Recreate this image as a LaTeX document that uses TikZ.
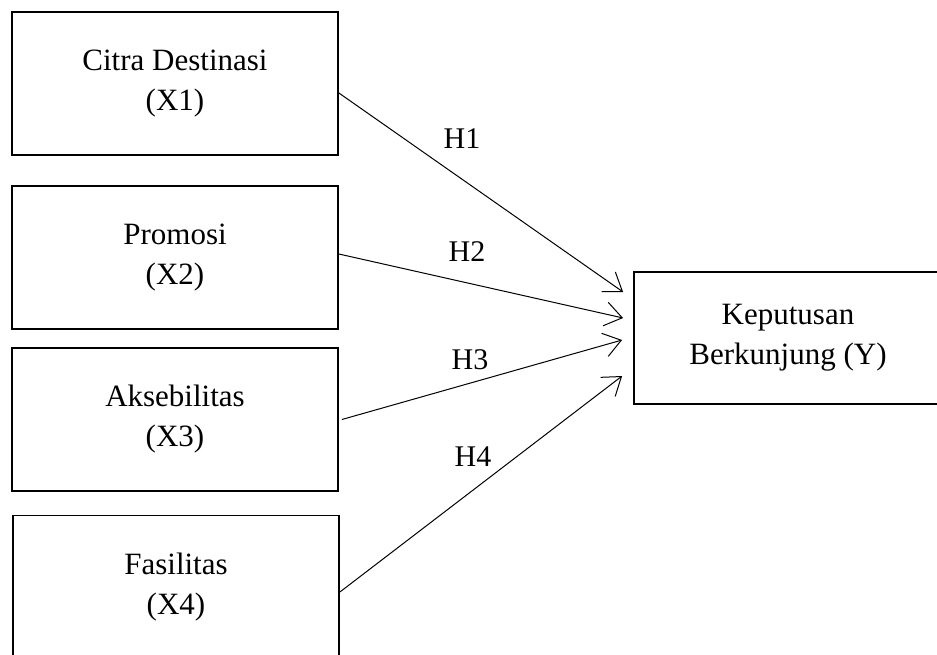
\documentclass[tikz,border=0pt]{standalone}
\usepackage{fontspec}
\setmainfont{Liberation Serif}
\usetikzlibrary{arrows.meta}
\begin{document}
\begin{tikzpicture}[x=1pt,y=-1pt,
  varbox/.style={draw, line width=1.8pt, rectangle, align=center, inner sep=0pt,
    font=\fontsize{31}{40}\selectfont},
  hyp/.style={font=\fontsize{30}{36}\selectfont, inner sep=0pt},
  link/.style={line width=1pt, -{Straight Barb[length=17pt,width=24pt,line width=1pt]}}]
\clip (0,0) rectangle (937,654);
\node[varbox, minimum width=326pt, minimum height=143pt] (X1) at (175,83.5) {Citra Destinasi\\(X1)};
\node[varbox, minimum width=326pt, minimum height=143pt] (X2) at (175,257.5) {Promosi\\(X2)};
\node[varbox, minimum width=326pt, minimum height=143pt] (X3) at (175,419.5) {Aksebilitas\\(X3)};
\node[varbox, minimum width=326pt, minimum height=143pt] (X4) at (176,587) {Fasilitas\\(X4)};
\node[varbox, minimum width=308pt, minimum height=132pt] (Y) at (788,338) {Keputusan\\Berkunjung (Y)};
\draw[link] ([yshift=-9.5pt]X1.east) -- ([xshift=-10pt,yshift=46pt]Y.west);
\draw[link] ([yshift=3.5pt]X2.east) -- ([xshift=-10pt,yshift=20pt]Y.west);
\draw[link] ([xshift=3pt]X3.east) -- ([xshift=-11pt,yshift=-2pt]Y.west);
\draw[link] ([yshift=-5pt]X4.east) -- ([xshift=-11pt,yshift=-38pt]Y.west);
\node[hyp] (h1) at (462,139) {H1};
\node[hyp] (h2) at (467,252) {H2};
\node[hyp] (h3) at (470,360) {H3};
\node[hyp] (h4) at (473,457) {H4};
\end{tikzpicture}
\end{document}
